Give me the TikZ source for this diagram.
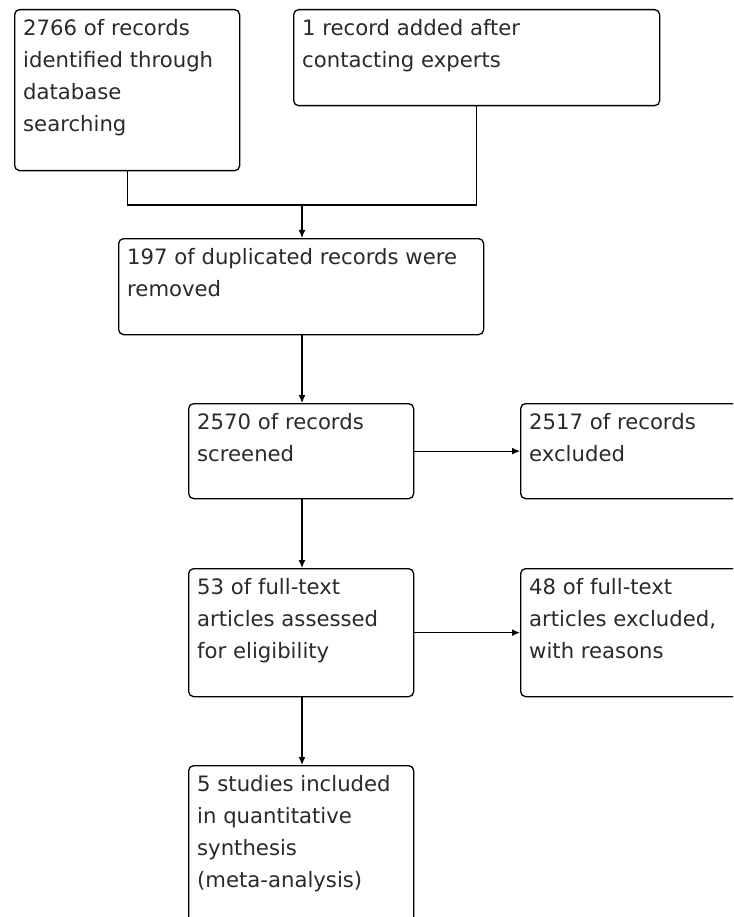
\documentclass[tikz,border=0pt]{standalone}
\usepackage{fontspec}
\setmainfont{DejaVu Sans}
\usetikzlibrary{arrows.meta}
\definecolor{txtgray}{HTML}{2A2A2A}
\tikzset{
  box/.style={draw=black, line width=1.3pt, rounded corners=5pt, inner sep=0pt, anchor=north west},
  txt/.style={anchor=north west, inner sep=0pt, align=left, text=txtgray,
    font=\fontsize{21.2}{32}\selectfont, execute at begin node=\rule{0pt}{23pt}},
  conn/.style={draw=black, line width=1.3pt},
  arr/.style={conn, -{Latex[length=8pt,width=7pt]}}
}
\begin{document}
\begin{tikzpicture}[x=1pt,y=-1pt]
\useasboundingbox (0,0) rectangle (733,917);
\clip (0,0) rectangle (733,917);
\fill[white] (0,0) rectangle (733,917);
% boxes
\node[box, minimum width=225, minimum height=161] (b1) at (14,9) {};
\node[box, minimum width=366, minimum height=96] (b2) at (293,9) {};
\node[box, minimum width=365, minimum height=96] (b3) at (118,238) {};
\node[box, minimum width=225, minimum height=95] (b4) at (188,403) {};
\node[box, minimum width=240, minimum height=95] (b5) at (520,403) {};
\node[box, minimum width=225, minimum height=128] (b6) at (188,568) {};
\node[box, minimum width=240, minimum height=128] (b7) at (520,568) {};
\node[box, minimum width=225, minimum height=180] (b8) at (188,765) {};
% texts
\node[txt] (t1) at ([shift={(9,10)}]b1.north west) {2766 of records\\identified through\\database\\searching};
\node[txt] (t2) at ([shift={(9,10)}]b2.north west) {1 record added after\\contacting experts};
\node[txt] (t3) at ([shift={(9,10)}]b3.north west) {197 of duplicated records were\\removed};
\node[txt] (t4) at ([shift={(9,10)}]b4.north west) {2570 of records\\screened};
\node[txt] (t5) at ([shift={(9,10)}]b5.north west) {2517 of records\\excluded};
\node[txt] (t6) at ([shift={(9,10)}]b6.north west) {53 of full-text\\articles assessed\\for eligibility};
\node[txt] (t7) at ([shift={(9,10)}]b7.north west) {48 of full-text\\articles excluded,\\with reasons};
\node[txt] (t8) at ([shift={(9,10)}]b8.north west) {5 studies included\\in quantitative\\synthesis\\(meta-analysis)};
% connectors
\coordinate (j) at (302,205);
\draw[conn] (b1.south) |- (j);
\draw[conn] (b2.south) |- (j);
\draw[arr] (j) -- (j |- b3.north);
\draw[arr] (j |- b3.south) -- (j |- b4.north);
\draw[arr] (b4.east) -- (b5.west |- b4.east);
\draw[arr] (j |- b4.south) -- (j |- b6.north);
\draw[arr] (b6.east) -- (b7.west |- b6.east);
\draw[arr] (j |- b6.south) -- (j |- b8.north);
\end{tikzpicture}
\end{document}
